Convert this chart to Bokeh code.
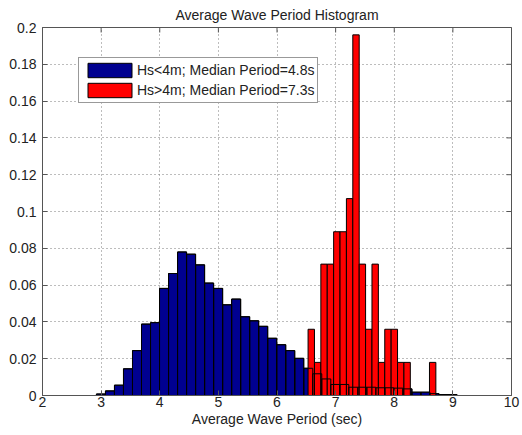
import numpy as np
from bokeh.plotting import figure
from bokeh.models import FixedTicker, Legend, LegendItem, Range1d, ColumnDataSource
from bokeh.embed import file_html
from bokeh.resources import INLINE

# ---------------- data ----------------
title_text = "Average Wave Period Histogram"
x_label = "Average Wave Period (sec)"
legend_labels = ["Hs<4m; Median Period=4.8s", "Hs>4m; Median Period=7.3s"]

# Hs<4m : 40 bins between the data extremes
blue_range = (2.92, 9.07)
blue_heights = [0.0008, 0.0025, 0.0056, 0.0145, 0.0244, 0.0388, 0.0396, 0.0582,
                0.0663, 0.0780, 0.0768, 0.0710, 0.0611, 0.0582, 0.0493, 0.0524,
                0.0428, 0.0406, 0.0376, 0.0311, 0.0276, 0.0244, 0.0202, 0.0148,
                0.0118, 0.0090, 0.0060, 0.0060, 0.0045, 0.0045, 0.0045, 0.0042,
                0.0042, 0.0040, 0.0036, 0.0018, 0.0018, 0.0010, 0.0005, 0.0005]

# Hs>4m : 20 bins between the data extremes
red_range = (6.53, 8.71)
red_heights = [0.036, 0.018, 0.0714, 0.0714, 0.089, 0.089, 0.107, 0.196,
               0.0714, 0.036, 0.0714, 0.018, 0.036, 0.036, 0.018, 0.018,
               0.0, 0.0, 0.0, 0.018]

x_ticks = [2, 3, 4, 5, 6, 7, 8, 9, 10]
y_ticks = [0, 0.02, 0.04, 0.06, 0.08, 0.1, 0.12, 0.14, 0.16, 0.18, 0.2]
y_tick_labels = ["0", "0.02", "0.04", "0.06", "0.08", "0.1", "0.12", "0.14",
                 "0.16", "0.18", "0.2"]

# ---------------- styles ----------------
FONT = "Liberation Sans"
FS = "14px"
TXT = "#222222"
AX = "#555555"
BLUE = "#000090"
RED = "#ff0000"

x0, x1 = x_ticks[0], x_ticks[-1]
y0, y1 = y_ticks[0], y_ticks[-1]

p = figure(width=522, height=435, x_range=Range1d(x0, x1), y_range=Range1d(y0, y1),
           output_backend="svg", toolbar_location=None,
           min_border_left=42, min_border_right=11, min_border_top=26,
           min_border_bottom=40)

p.title.text = title_text
p.title.align = "center"
p.title.text_font = FONT
p.title.text_font_size = FS
p.title.text_font_style = "normal"
p.title.text_color = TXT
p.title.standoff = 9

p.background_fill_color = "white"
p.border_fill_color = "white"
p.outline_line_color = AX
p.outline_line_width = 1

def style_axis(ax, ticks):
    ax.ticker = FixedTicker(ticks=ticks)
    ax.major_tick_in = 5
    ax.major_tick_out = 0
    ax.minor_tick_line_color = None
    ax.axis_line_color = AX
    ax.major_tick_line_color = AX
    ax.major_label_text_font = FONT
    ax.major_label_text_color = TXT
    ax.major_label_text_font_size = FS

xa = p.xaxis[0]
style_axis(xa, x_ticks)
xa.major_label_standoff = 1
xa.axis_label = x_label
xa.axis_label_text_font = FONT
xa.axis_label_text_font_size = FS
xa.axis_label_text_font_style = "normal"
xa.axis_label_text_color = TXT
xa.axis_label_standoff = 1

ya = p.yaxis[0]
style_axis(ya, y_ticks)
ya.major_label_standoff = 6
ya.major_label_overrides = {t: l for t, l in zip(y_ticks, y_tick_labels)}

for g, ticks in ((p.xgrid[0], x_ticks), (p.ygrid[0], y_ticks)):
    g.ticker = FixedTicker(ticks=ticks)
    g.grid_line_color = "#7a7a7a"
    g.grid_line_dash = "1 3"
    g.grid_line_width = 1

# ---------------- bars ----------------
be = np.linspace(blue_range[0], blue_range[1], len(blue_heights) + 1)
src_b = ColumnDataSource(dict(left=be[:-1], right=be[1:], top=blue_heights))
re_ = np.linspace(red_range[0], red_range[1], len(red_heights) + 1)
src_r = ColumnDataSource(dict(left=re_[:-1], right=re_[1:], top=red_heights))

rb = p.quad(left="left", right="right", top="top", bottom=0, source=src_b,
            fill_color=BLUE, line_color="black", line_width=1)
rr = p.quad(left="left", right="right", top="top", bottom=0, source=src_r,
            fill_color=RED, line_color="black", line_width=1)
# edges of the Hs<4m bars show through the red ones
p.quad(left="left", right="right", top="top", bottom=0, source=src_b,
       fill_color=None, line_color="black", line_width=1)

# inward ticks on the top and right edges of the box (clipped to the frame)
p.scatter(x=x_ticks, y=[y1] * len(x_ticks), marker="dash", size=10,
          angle=np.pi / 2, line_color=AX, line_width=1)
p.scatter(x=[x1] * len(y_ticks), y=y_ticks, marker="dash", size=10,
          line_color=AX, line_width=1)

legend = Legend(items=[LegendItem(label=legend_labels[0], renderers=[rb]),
                       LegendItem(label=legend_labels[1], renderers=[rr])],
                location=(36, 292), glyph_width=55, glyph_height=18,
                label_height=18, label_standoff=-4, spacing=2, padding=3,
                margin=0, border_line_color="#333333", border_line_width=1,
                label_text_font=FONT, label_text_font_size=FS,
                label_text_color=TXT, background_fill_color="white",
                background_fill_alpha=1)
p.add_layout(legend)

open("out.html", "w").write(file_html(p, INLINE))
